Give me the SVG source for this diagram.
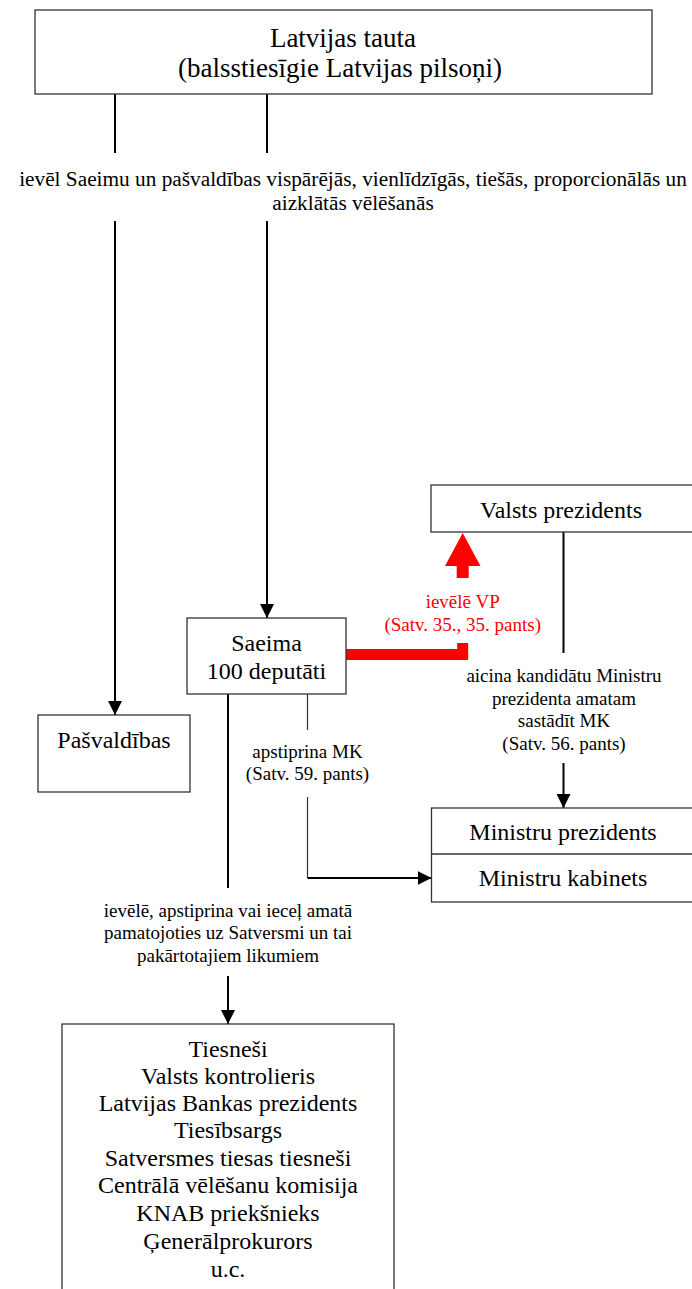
<svg xmlns="http://www.w3.org/2000/svg" width="692" height="1289" viewBox="0 0 692 1289">
<style>
.box{fill:#fff;stroke:#333;stroke-width:1.3}
.t{font-family:"Liberation Serif","Times New Roman",serif;fill:#000;text-anchor:middle}
.big{font-size:24px}
.top{font-size:27px}
.sm{font-size:19px}
.wide{font-size:21.3px}
.red{fill:#f00}
.ln{fill:none;stroke:#000;stroke-width:2}
.thin{fill:none;stroke:#333;stroke-width:1.2}
</style>
<defs>
<marker id="ah" markerUnits="userSpaceOnUse" markerWidth="14" markerHeight="14" viewBox="0 0 14 14" refX="14" refY="7" orient="auto">
<path d="M0,0 L14,7 L0,14 Z" fill="#000"/>
</marker>
</defs>
<rect width="692" height="1289" fill="#fff"/>
<g id="connectors">
<line class="ln" x1="115" y1="94" x2="115" y2="153"/>
<line class="ln" x1="267" y1="94" x2="267" y2="153"/>
<line class="ln" x1="115" y1="221" x2="115" y2="715" marker-end="url(#ah)"/>
<line class="ln" x1="267" y1="221" x2="267" y2="618" marker-end="url(#ah)"/>
<path d="M346,654.5 H462.7 V643" fill="none" stroke="#f00" stroke-width="11"/>
<rect x="456.7" y="562" width="12" height="16" fill="#f00"/>
<polygon points="445,566 480.5,566 462.7,533" fill="#f00"/>
<line class="ln" x1="563.5" y1="532" x2="563.5" y2="653"/>
<line class="ln" x1="563.5" y1="763" x2="563.5" y2="808" marker-end="url(#ah)"/>
<line class="thin" x1="307.5" y1="694" x2="307.5" y2="730"/>
<path class="thin" d="M307.5,797 V878"/>
<line class="ln" x1="307.5" y1="878" x2="431.5" y2="878" marker-end="url(#ah)"/>
<line class="ln" x1="228" y1="694" x2="228" y2="888"/>
<line class="ln" x1="228" y1="976" x2="228" y2="1024" marker-end="url(#ah)"/>
</g>
<g id="edge-labels">
<text class="t wide" x="353" y="186">ievēl Saeimu un pašvaldības vispārējās, vienlīdzīgās, tiešās, proporcionālās un</text>
<text class="t wide" x="353" y="210">aizklātās vēlēšanās</text>
<text class="t sm red" x="462.7" y="608">ievēlē VP</text>
<text class="t sm red" x="462.7" y="631">(Satv. 35., 35. pants)</text>
<text class="t sm" x="564" y="682">aicina kandidātu Ministru</text>
<text class="t sm" x="564" y="705">prezidenta amatam</text>
<text class="t sm" x="564" y="727">sastādīt MK</text>
<text class="t sm" x="564" y="750">(Satv. 56. pants)</text>
<text class="t sm" x="307.5" y="758">apstiprina MK</text>
<text class="t sm" x="307.5" y="780">(Satv. 59. pants)</text>
<text class="t sm" x="228" y="917">ievēlē, apstiprina vai ieceļ amatā</text>
<text class="t sm" x="228" y="939">pamatojoties uz Satversmi un tai</text>
<text class="t sm" x="228" y="962">pakārtotajiem likumiem</text>
</g>
<g id="node-tauta">
<rect class="box" x="35" y="10" width="617" height="84"/>
<text class="t top" x="343" y="47">Latvijas tauta</text>
<text class="t top" x="340" y="77">(balsstiesīgie Latvijas pilsoņi)</text>
</g>
<g id="node-prezidents">
<rect class="box" x="431" y="485" width="270" height="47"/>
<text class="t big" x="561" y="518">Valsts prezidents</text>
</g>
<g id="node-saeima">
<rect class="box" x="187" y="618" width="159" height="76"/>
<text class="t big" x="266.5" y="651">Saeima</text>
<text class="t big" x="266.5" y="679">100 deputāti</text>
</g>
<g id="node-pasvaldibas">
<rect class="box" x="38" y="715" width="152" height="77"/>
<text class="t big" x="114" y="748">Pašvaldības</text>
</g>
<g id="node-mk">
<rect class="box" x="431.5" y="808" width="270" height="94"/>
<line class="box" x1="431.5" y1="854" x2="692" y2="854"/>
<text class="t big" x="563" y="840">Ministru prezidents</text>
<text class="t big" x="563" y="886">Ministru kabinets</text>
</g>
<g id="node-amati">
<rect class="box" x="62" y="1024" width="332" height="300"/>
<text class="t big" x="228" y="1057">Tiesneši</text>
<text class="t big" x="228" y="1084">Valsts kontrolieris</text>
<text class="t big" x="228" y="1111">Latvijas Bankas prezidents</text>
<text class="t big" x="228" y="1138">Tiesībsargs</text>
<text class="t big" x="228" y="1166">Satversmes tiesas tiesneši</text>
<text class="t big" x="228" y="1193">Centrālā vēlēšanu komisija</text>
<text class="t big" x="228" y="1221">KNAB priekšnieks</text>
<text class="t big" x="228" y="1249">Ģenerālprokurors</text>
<text class="t big" x="228" y="1277">u.c.</text>
</g>
</svg>
